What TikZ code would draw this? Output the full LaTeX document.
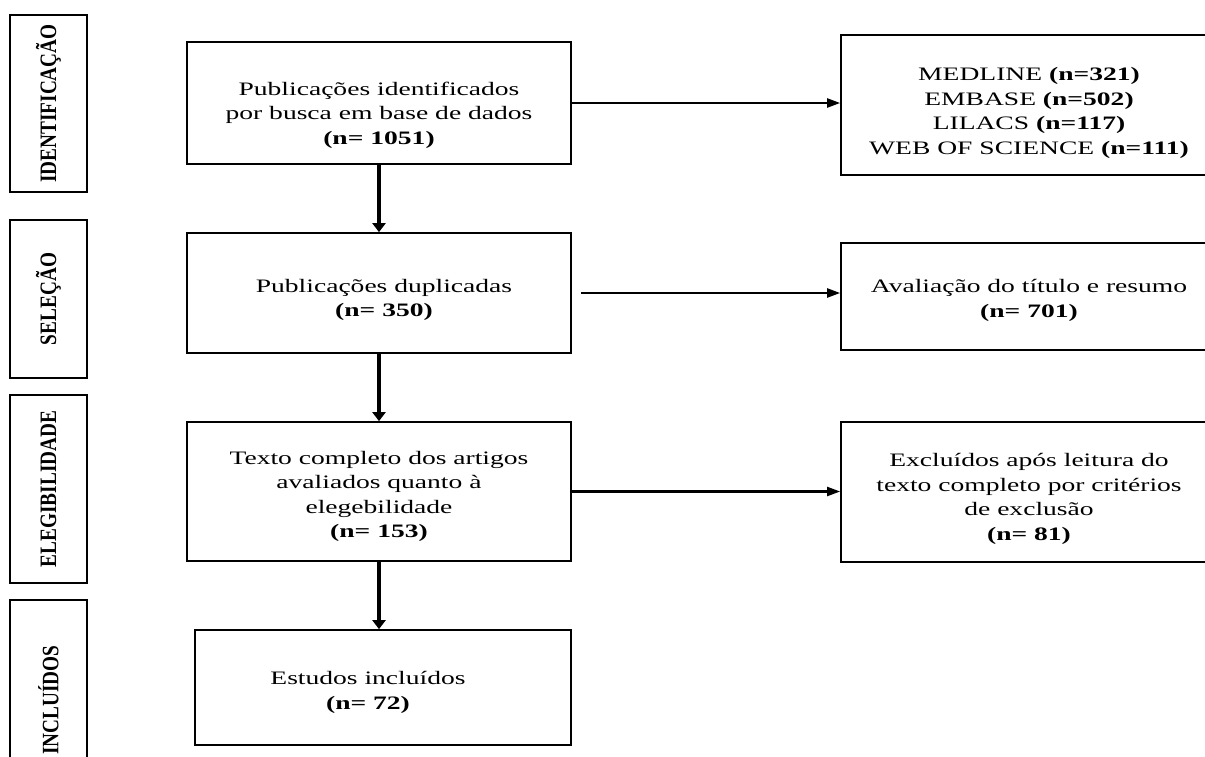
\documentclass[tikz,border=0pt]{standalone}
\usepackage{fontspec}
\setmainfont{Liberation Serif}
\newfontfamily\widefont[FakeStretch=1.45]{Liberation Serif}
\newfontfamily\narrowfont[FakeStretch=0.82]{Liberation Serif}
\usetikzlibrary{arrows.meta}
\begin{document}
\begin{tikzpicture}[x=1pt,y=-1pt,
  box/.style={draw, line width=1.7pt, inner sep=0pt},
  txt/.style={align=center, inner sep=0pt,
    font=\widefont\fontsize{19}{24.5}\selectfont},
  stage/.style={draw, line width=1.7pt, rotate=90, inner sep=0pt,
    minimum height=77pt, font=\narrowfont\fontsize{23.5}{26}\selectfont\bfseries},
  vflow/.style={line width=3.4pt, -{Triangle[length=9pt,width=13pt]}},
  hflow/.style={line width=2.2pt, -{Triangle[length=13pt,width=9pt]}}]
\useasboundingbox (0,0) rectangle (1205,756);
\clip (0,0) rectangle (1205,756);
% stage labels
\node[stage, minimum width=177pt] (s1) at (48.5,103.5) {IDENTIFICAÇÃO};
\node[stage, minimum width=158pt] (s2) at (48.5,299) {SELEÇÃO};
\node[stage, minimum width=188pt] (s3) at (48.5,489) {ELEGIBILIDADE};
\node[stage, minimum width=200pt] (s4) at (48.5,700) {INCLUÍDOS};
% main column
\node[box, minimum width=384pt, minimum height=122pt,
  label={[txt, yshift=-12pt]center:{Publicações identificados\\por busca em base de dados\\\textbf{(n= 1051)}}}] (b1) at (379,103) {};
\node[box, minimum width=384pt, minimum height=120pt,
  label={[txt, yshift=-7pt, xshift=5pt]center:{Publicações duplicadas\\\textbf{(n= 350)}}}] (b2) at (379,293) {};
\node[box, minimum width=384pt, minimum height=139pt,
  label={[txt, yshift=-5pt]center:{Texto completo dos artigos\\avaliados quanto à\\elegebilidade\\\textbf{(n= 153)}}}] (b3) at (379,491.5) {};
\node[box, minimum width=376pt, minimum height=115pt,
  label={[txt, yshift=-5pt, xshift=-15pt]center:{Estudos incluídos\\\textbf{(n= 72)}}}] (b4) at (383,687.5) {};
% right column
\node[box, minimum width=376pt, minimum height=140pt,
  label={[txt, yshift=-8pt]center:{MEDLINE \textbf{(n=321)}\\EMBASE \textbf{(n=502)}\\LILACS \textbf{(n=117)}\\WEB OF SCIENCE \textbf{(n=111)}}}] (r1) at (1029,105) {};
\node[box, minimum width=376pt, minimum height=107pt,
  label={[txt, yshift=-4pt]center:{Avaliação do título e resumo\\\textbf{(n= 701)}}}] (r2) at (1029,296.5) {};
\node[box, minimum width=376pt, minimum height=140pt,
  label={[txt, yshift=-7pt]center:{Excluídos após leitura do\\texto completo por critérios\\de exclusão\\\textbf{(n= 81)}}}] (r3) at (1029,492) {};
% connectors
\draw[vflow] (b1.south) -- (b2.north);
\draw[vflow] (b2.south) -- (b3.north);
\draw[vflow] (b3.south) -- (b3.south |- b4.north);
\draw[hflow] (b1.east) -- (b1.east -| r1.west);
\draw[hflow, shorten <=9pt] (b2.east) -- (b2.east -| r2.west);
\draw[hflow] (b3.east) -- (b3.east -| r3.west);
\end{tikzpicture}
\end{document}
